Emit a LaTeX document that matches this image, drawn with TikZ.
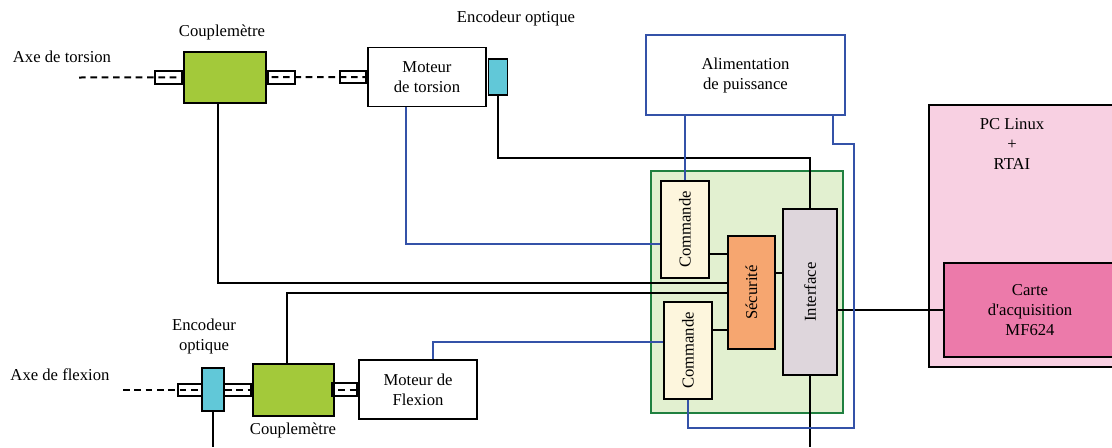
\documentclass[tikz,border=0pt]{standalone}
\usepackage{fontspec}
\setmainfont{Liberation Serif}
\usepackage{xcolor}
\usepackage{tikz}
\usetikzlibrary{positioning, calc, backgrounds}
\definecolor{cCoupler}{RGB}{163,201,58}
\definecolor{cEncoder}{RGB}{97,200,216}
\definecolor{cBoard}{RGB}{226,240,208}
\definecolor{cBoardLine}{RGB}{32,128,64}
\definecolor{cCmd}{RGB}{253,246,221}
\definecolor{cSecu}{RGB}{246,166,112}
\definecolor{cIntf}{RGB}{222,214,220}
\definecolor{cPC}{RGB}{248,208,226}
\definecolor{cCarte}{RGB}{236,122,170}
\definecolor{cBlue}{RGB}{52,82,168}
\tikzset{
	txt/.style      ={align=center, inner sep=0pt},
	blk/.style      ={rectangle, draw=black, line width=1.4pt, align=center, inner sep=0pt},
	coupler/.style  ={blk, fill=cCoupler},
	encoder/.style  ={blk, fill=cEncoder},
	motor/.style    ={blk, fill=white},
	stub/.style     ={rectangle, draw=black, line width=1.4pt, minimum height=9.25pt, inner sep=0pt},
	board/.style    ={rectangle, draw=cBoardLine, line width=1.3pt, fill=cBoard},
	alimbox/.style  ={rectangle, draw=cBlue, line width=1.4pt, fill=white, align=center},
	cmdbox/.style   ={blk, fill=cCmd},
	secubox/.style  ={blk, fill=cSecu},
	intfbox/.style  ={blk, fill=cIntf},
	pcbox/.style    ={blk, fill=cPC},
	cartebox/.style ={blk, fill=cCarte},
	shaft/.style    ={line width=1.5pt, dash pattern=on 5pt off 3.5pt},
	wire/.style     ={line width=1.2pt, black},
	bwire/.style    ={line width=1.2pt, cBlue},
}

\begin{document}
\begin{tikzpicture}[x=0.75pt, y=-0.75pt, font=\fontsize{12.5}{15}\selectfont]
					\useasboundingbox (0,0) rectangle (1112,447);
					\coordinate (bot) at (0,447);
					\coordinate (axeT) at (79,77.5);
					\coordinate (axeB) at (123,389.5);
					\node[board, minimum width=144pt, minimum height=181.5pt] (brd) at (747,292) {};
					\node[alimbox, minimum width=149.25pt, minimum height=60pt] (alim) at (745.5,75) {Alimentation\\de puissance};
					\node[pcbox, minimum width=143.25pt, minimum height=196.5pt] (pc) at (1024.5,236) {};
					\node[txt, anchor=north] (pclbl) at (1012,118) {PC Linux\\+\\RTAI};
					\node[cartebox, minimum width=129pt, minimum height=70.5pt] (carte) at (1030,310) {Carte\\d\textquotesingle acquisition\\MF624};
					\node[coupler, minimum width=61.5pt, minimum height=38.25pt] (cplT) at (225,77.5) {};
					\node[stub, minimum width=20.25pt, left=0pt of cplT] (stT1) {};
					\node[stub, minimum width=20.25pt, right=0pt of cplT] (stT2) {};
					\node[motor, minimum width=88.5pt, minimum height=44.25pt] (motT) at (427,77) {Moteur\\de torsion};
					\node[stub, minimum width=19.5pt, left=0pt of motT] (stT3) {};
					\node[encoder, minimum width=14.25pt, minimum height=27pt, right=0.5pt of motT] (encT) {};
					\node[coupler, minimum width=61pt, minimum height=39pt] (cplB) at (293.5,390) {};
					\node[stub, minimum width=54.75pt, left=0pt of cplB] (stB1) {};
					\node[encoder, minimum width=16.5pt, minimum height=32.25pt] (encB) at (213,389.5) {};
					\node[motor, minimum width=88.5pt, minimum height=44.25pt] (motB) at (418,389.5) {Moteur de\\Flexion};
					\node[stub, minimum width=18.75pt, left=0pt of motB] (stB2) {};
					\node[cmdbox, minimum width=36pt, minimum height=72.75pt, label={[txt, rotate=90]center:Commande}] (cmdT) at (685,229.5) {};
					\node[cmdbox, minimum width=36pt, minimum height=72.75pt, label={[txt, rotate=90]center:Commande}] (cmdB) at (688,350.5) {};
					\node[secubox, minimum width=35.25pt, minimum height=84.75pt, label={[txt, rotate=90]center:Sécurité}] (secu) at (751.5,292.5) {};
					\node[intfbox, minimum width=40.5pt, minimum height=124.5pt, label={[txt, rotate=90]center:Interface}] (intf) at (810,292) {};
					\node[txt] (lblAxeT) at (62,57) {Axe de torsion};
					\node[txt] (lblAxeB) at (60,375) {Axe de flexion};
					\node[txt] (lblCplT) at (222,32) {Couplemètre};
					\node[txt] (lblCplB) at (293,430) {Couplemètre};
					\node[txt] (lblEncT) at (516,18) {Encodeur optique};
					\node[txt] (lblEncB) at (204,336) {Encodeur\\optique};
					\begin{scope}[on background layer]
						\draw[shaft] (axeT) -- (motT.west); \draw[shaft] (axeB) -- (motB.west);
					\end{scope}
					\coordinate (s1) at ($(cmdT.east)+(0,24.5)$);
					\coordinate (s2) at ($(cmdB.east)+(0,-20.5)$);
					\coordinate (s3) at ($(secu.east)+(0,-19.5)$);
					\draw[wire] ($(cplT.south)+(-7,0)$) |- ($(secu.west)+(0,-9.5)$);
					\draw[wire] ($(cplB.north)+(-6.5,0)$) |- ($(secu.west)+(0,0.5)$);
					\draw[wire] (encT.south) -- ++(0,62) -| (intf.north);
					\draw[wire] (intf.south) -- (intf.south |- bot); \draw[wire] (encB.south) -- (encB.south |- bot);
					\draw[wire] (s1) -- (s1 -| secu.west); \draw[wire] (s2) -- (s2 -| secu.west);
					\draw[wire] (s3) -- (s3 -| intf.west);
					\draw[wire] (intf.east |- carte.west) -- (carte.west);
					\draw[bwire] (cmdT.north |- alim.south) -- (cmdT.north);
					\draw[bwire] ($(motT.south)+(-21,0)$) |- ($(cmdT.west)+(0,14.5)$);
					\draw[bwire] ($(motB.north)+(15,0)$) |- ($(cmdB.west)+(0,-8.5)$);
					\draw[bwire] ($(alim.south east)+(-13,0)$) -- ++(0,28) -- ++(21,0) -- ++(0,284) -| (cmdB.south);
				\end{tikzpicture}
\end{document}
